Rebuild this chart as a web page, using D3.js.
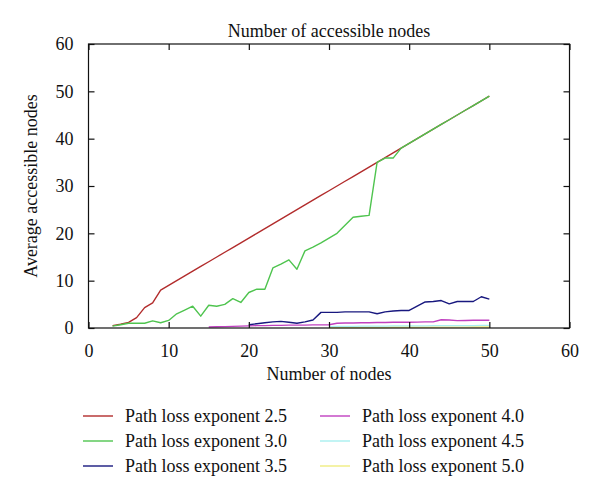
<!DOCTYPE html>
<html>
<head>
<meta charset="utf-8">
<script src="https://cdn.jsdelivr.net/npm/d3@7"></script>
<style>
  html, body { margin: 0; padding: 0; background: #fff; }
  svg text { font-family: "Liberation Serif", "DejaVu Serif", serif; fill: #111; }
</style>
</head>
<body>
<svg id="chart" width="600" height="500"></svg>
<script>
// ---- data ----
const titleText = "Number of accessible nodes";
const xLabel = "Number of nodes";
const yLabel = "Average accessible nodes";
const xTicks = [0, 10, 20, 30, 40, 50, 60];
const yTicks = [0, 10, 20, 30, 40, 50, 60];

const seriesNames = ["Path loss exponent 2.5", "Path loss exponent 3.0", "Path loss exponent 3.5",
                     "Path loss exponent 4.0", "Path loss exponent 4.5", "Path loss exponent 5.0"];
const seriesColors = ["#b22c2c", "#4fc44f", "#18187f", "#c040c0", "#a8f0f0", "#f0ec80"];

const nodes25 = [3,4,5,6,7,8,9,10,11,12,13,14,15,16,17,18,19,20,21,22,23,24,25,26,27,28,29,30,31,32,33,34,35,36,37,38,39,40,41,42,43,44,45,46,47,48,49,50];
const exp25   = [0.5,0.8,1.2,2.2,4.3,5.3,8,9,10,11,12,13,14,15,16,17,18,19,20,21,22,23,24,25,26,27,28,29,30,31,32,33,34,35,36,37,38,39,40,41,42,43,44,45,46,47,48,49];

const nodes30 = nodes25;
const exp30   = [0.4,0.7,1.0,1.0,1.0,1.5,1.1,1.6,3.0,3.8,4.6,2.5,4.8,4.6,5.0,6.2,5.4,7.5,8.2,8.2,12.7,13.5,14.4,12.4,16.3,17.1,18.0,19.0,20.0,21.7,23.4,23.6,23.8,35.0,35.9,35.9,38,39,40,41,42,43,44,45,46,47,48,49];

const nodes35 = [20,21,22,23,24,25,26,27,28,29,30,31,32,33,34,35,36,37,38,39,40,41,42,43,44,45,46,47,48,49,50];
const exp35   = [0.7,0.9,1.1,1.3,1.4,1.2,1.0,1.3,1.7,3.3,3.3,3.3,3.4,3.4,3.4,3.4,3.0,3.4,3.6,3.7,3.7,4.6,5.5,5.6,5.8,5.1,5.6,5.6,5.6,6.6,6.1];

const nodes40 = [15,16,17,18,19,20,21,22,23,24,25,26,27,28,29,30,31,32,33,34,35,36,37,38,39,40,41,42,43,44,45,46,47,48,49,50];
const exp40   = [0.2,0.25,0.3,0.35,0.4,0.45,0.5,0.5,0.55,0.55,0.6,0.6,0.6,0.65,0.65,0.7,1.0,1.05,1.05,1.1,1.1,1.15,1.15,1.2,1.2,1.2,1.25,1.3,1.3,1.75,1.7,1.55,1.6,1.65,1.65,1.65];

const nodes45 = [30,31,32,33,34,35,36,37,38,39,40,41,42,43,44,45,46,47,48,49,50];
const exp45   = [0.3,0.35,0.35,0.35,0.4,0.4,0.4,0.4,0.45,0.45,0.45,0.45,0.45,0.5,0.5,0.5,0.5,0.5,0.5,0.55,0.55];

const nodes50 = [30,31,32,33,34,35,36,37,38,39,40,41,42,43,44,45,46,47,48,49,50];
const exp50   = [0.1,0.1,0.1,0.1,0.12,0.12,0.12,0.12,0.15,0.15,0.15,0.15,0.15,0.15,0.18,0.18,0.18,0.18,0.2,0.2,0.2];

const seriesX = [nodes25, nodes30, nodes35, nodes40, nodes45, nodes50];
const seriesY = [exp25, exp30, exp35, exp40, exp45, exp50];

// ---- drawing ----
const svg = d3.select("#chart");
const pLeft = 88.5, pRight = 569.5, pTop = 44, pBottom = 328;
const x = d3.scaleLinear().domain([0, 60]).range([pLeft, pRight]);
const y = d3.scaleLinear().domain([0, 60]).range([pBottom, pTop]);
const fs = 18;

// lines
const line = d3.line().x(d => x(d[0])).y(d => y(d[1]));
const drawOrder = [5, 4, 3, 2, 0, 1];
drawOrder.forEach(i => {
  const pts = seriesX[i].map((v, k) => [v, seriesY[i][k]]);
  svg.append("path").attr("d", line(pts)).attr("fill", "none")
     .attr("stroke", seriesColors[i]).attr("stroke-width", 1.4)
     .attr("stroke-linejoin", "round");
});

// frame
svg.append("rect").attr("x", pLeft).attr("y", pTop)
   .attr("width", pRight - pLeft).attr("height", pBottom - pTop)
   .attr("fill", "none").attr("stroke", "#111").attr("stroke-width", 1.2);

// axes with inward ticks
const tickLen = 6;
const xb = svg.append("g").attr("transform", `translate(0,${pBottom})`)
  .call(d3.axisBottom(x).tickValues(xTicks).tickSize(-tickLen).tickPadding(tickLen + 10).tickFormat(d3.format("d")));
const xt = svg.append("g").attr("transform", `translate(0,${pTop})`)
  .call(d3.axisTop(x).tickValues(xTicks).tickSize(-tickLen).tickFormat(""));
const yl = svg.append("g").attr("transform", `translate(${pLeft},0)`)
  .call(d3.axisLeft(y).tickValues(yTicks).tickSize(-tickLen).tickPadding(tickLen + 9).tickFormat(d3.format("d")));
const yr = svg.append("g").attr("transform", `translate(${pRight},0)`)
  .call(d3.axisRight(y).tickValues(yTicks).tickSize(-tickLen).tickFormat(""));
[xb, xt, yl, yr].forEach(g => {
  g.select(".domain").remove();
  g.selectAll(".tick line").attr("stroke", "#111").attr("stroke-width", 1.2);
  g.selectAll(".tick text").attr("font-size", fs).attr("font-family", "Liberation Serif").attr("fill", "#111");
});

// title and labels
svg.append("text").attr("x", (pLeft + pRight) / 2).attr("y", 37).attr("text-anchor", "middle")
   .attr("font-size", fs).text(titleText);
svg.append("text").attr("x", (pLeft + pRight) / 2).attr("y", 380).attr("text-anchor", "middle")
   .attr("font-size", fs).text(xLabel);
svg.append("text").attr("transform", `translate(37,${(pTop + pBottom) / 2}) rotate(-90)`)
   .attr("text-anchor", "middle").attr("font-size", fs).text(yLabel);

// legend
const legCols = [83, 320];
const legRows = [416, 441, 466];
seriesNames.forEach((name, i) => {
  const cx = legCols[Math.floor(i / 3)];
  const cy = legRows[i % 3];
  svg.append("line").attr("x1", cx).attr("x2", cx + 30).attr("y1", cy).attr("y2", cy)
     .attr("stroke", seriesColors[i]).attr("stroke-width", 1.4);
  svg.append("text").attr("x", cx + 42).attr("y", cy + 6).attr("font-size", fs).text(name);
});
</script>
</body>
</html>
